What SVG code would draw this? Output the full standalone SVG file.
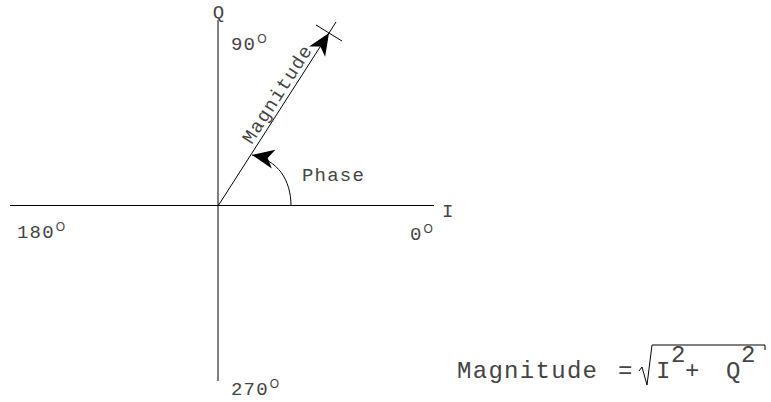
<svg xmlns="http://www.w3.org/2000/svg" width="771" height="402" viewBox="0 0 771 402">
<style>
.t{font-family:"Liberation Mono","Courier New",monospace;font-size:19px;letter-spacing:1.2px;fill:#444}
.b{font-family:"Liberation Mono","Courier New",monospace;font-size:24px;letter-spacing:1.3px;fill:#444}
.deg{font-family:"Liberation Sans",Arial,sans-serif;font-size:12px;letter-spacing:0}
.ln{stroke:#000;stroke-width:1;fill:none}
</style>
<defs>
<marker id="ah" markerUnits="userSpaceOnUse" viewBox="-24 -12 26 24" markerWidth="26" markerHeight="24" refX="0" refY="0" orient="auto">
<path d="M0,0 L-22,-9.5 L-16,0 L-22,9.5 Z" fill="#000"/>
</marker>
</defs>
<rect width="771" height="402" fill="#fff"/>
<g id="axes">
<line class="ln" x1="218" y1="20" x2="218" y2="381" stroke="#444"/>
<line class="ln" x1="10" y1="205.5" x2="434" y2="205.5"/>
</g>
<g id="connectors">
<line class="ln" x1="218" y1="206" x2="329" y2="33" marker-end="url(#ah)"/>
<line class="ln" x1="329" y1="33" x2="336" y2="22"/>
<line class="ln" x1="316" y1="25" x2="342" y2="41"/>
<path class="ln" d="M291,206 C291,180 278,160 252,155" marker-end="url(#ah)"/>
</g>
<g id="labels">
<text class="t" x="219" y="18" text-anchor="middle">Q</text>
<text class="t" x="442" y="217">I</text>
<text class="t" x="231" y="50">90<tspan class="deg" dx="1" dy="-7">O</tspan></text>
<text class="t" x="17" y="238">180<tspan class="deg" dx="1" dy="-7">O</tspan></text>
<text class="t" x="410" y="240">0<tspan class="deg" dx="1" dy="-7">O</tspan></text>
<text class="t" x="231" y="395">270<tspan class="deg" dx="1" dy="-7">O</tspan></text>
<text class="t" x="302" y="181">Phase</text>
<text class="t" transform="translate(251.8,145) rotate(-57.3)">Magnitude</text>
</g>
<g id="formula">
<text class="b" x="457" y="378">Magnitude</text>
<text class="b" x="618" y="378">=</text>
<path class="ln" d="M639,371 L642,367 L647,385 L652,345 L765,345 L765,350"/>
<text class="b" x="656" y="378">I</text>
<text class="b" x="671" y="362">2</text>
<text class="b" x="685" y="378">+</text>
<text class="b" x="726" y="378">Q</text>
<text class="b" x="741" y="362">2</text>
</g>
</svg>
